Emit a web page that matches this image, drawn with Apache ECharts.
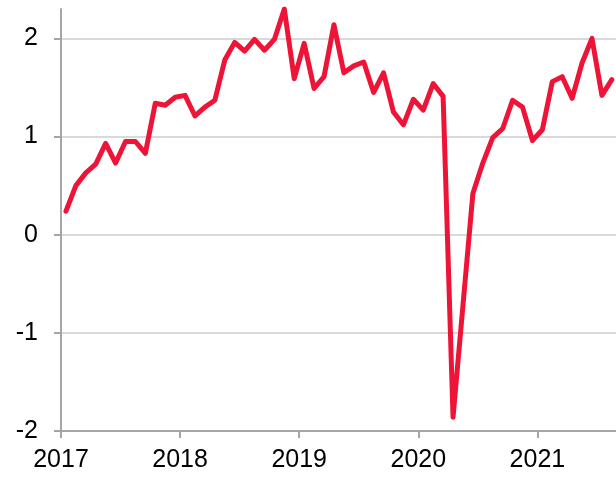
<!DOCTYPE html>
<html>
<head>
<meta charset="utf-8">
<script src="https://cdn.jsdelivr.net/npm/echarts@6/dist/echarts.min.js"></script>
<style>
  html, body { margin: 0; padding: 0; background: #fff; }
  #chart { width: 616px; height: 478px; }
</style>
</head>
<body>
<div id="chart"></div>
<script>
// monthly, Jan 2017 .. Aug 2021
const startYear = 2017
const values = [
  0.24, 0.50, 0.63, 0.72, 0.93, 0.73, 0.95, 0.95, 0.83, 1.34, 1.32, 1.40,
  1.42, 1.21, 1.30, 1.37, 1.78, 1.96, 1.87, 1.99, 1.88, 1.99, 2.30, 1.59,
  1.95, 1.49, 1.61, 2.14, 1.65, 1.72, 1.76, 1.45, 1.65, 1.25, 1.12, 1.38,
  1.27, 1.54, 1.41, -1.86, -0.72, 0.42, 0.73, 0.99, 1.08, 1.37, 1.30, 0.96,
  1.07, 1.56, 1.61, 1.39, 1.75, 2.00, 1.42, 1.58
]
const yearTicks = [2017, 2018, 2019, 2020, 2021]
const yTicks = [-2, -1, 0, 1, 2]

// place each month at its middle on a decimal-year axis
const points = values.map((v, i) => [startYear + (i + 0.5) / 12, v])

const axisGrey = '#a6a6a6'
const chart = echarts.init(document.getElementById('chart'))
chart.setOption({
  animation: false,
  grid: { left: 61, right: 0, top: 9, bottom: 47 },
  xAxis: {
    type: 'value',
    min: 2017,
    max: 2021.66,
    interval: 1,
    axisLine: { onZero: false, lineStyle: { color: axisGrey, width: 2 } },
    axisTick: { customValues: yearTicks, length: 7, lineStyle: { color: axisGrey, width: 2 } },
    axisLabel: {
      customValues: yearTicks,
      formatter: v => String(v),
      color: '#000',
      fontFamily: 'Liberation Sans, Arial, sans-serif',
      fontSize: 25,
      margin: 17
    },
    splitLine: { show: false }
  },
  yAxis: {
    type: 'value',
    min: -2,
    max: 2.3,
    interval: 1,
    axisLine: { show: true, lineStyle: { color: axisGrey, width: 2 } },
    axisTick: { show: true, customValues: yTicks, length: 7, lineStyle: { color: axisGrey, width: 2 } },
    axisLabel: {
      customValues: yTicks,
      color: '#000',
      fontFamily: 'Liberation Sans, Arial, sans-serif',
      fontSize: 25,
      margin: 23
    },
    splitLine: {
      lineStyle: {
        color: ['#d9d9d9', '#d9d9d9', '#d9d9d9', '#d9d9d9', '#d9d9d9', 'rgba(0,0,0,0)'],
        width: 2
      }
    }
  },
  series: [{
    type: 'line',
    data: points,
    showSymbol: false,
    clip: true,
    lineStyle: { color: '#ee1438', width: 5, join: 'round', cap: 'round' }
  }]
})
</script>
</body>
</html>
